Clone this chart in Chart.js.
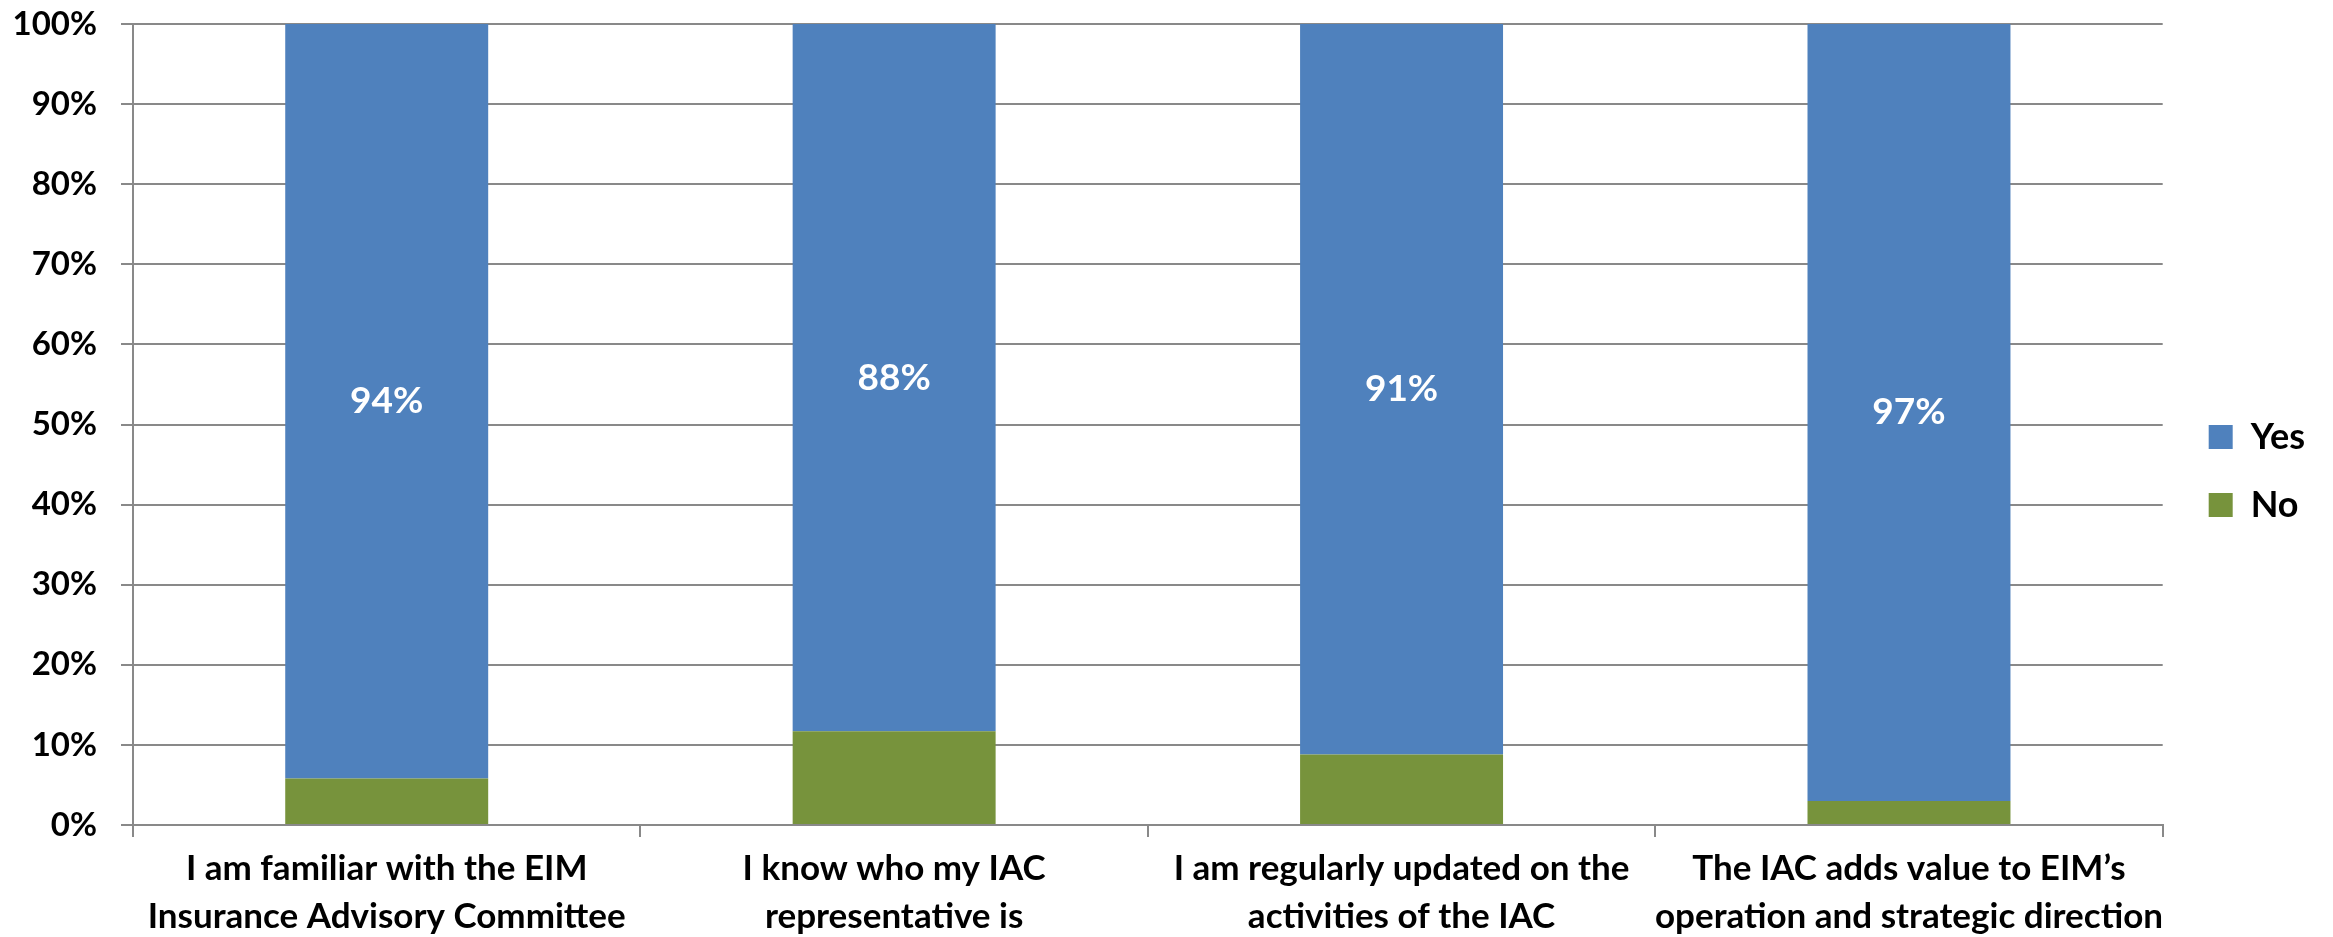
<!DOCTYPE html>
<html>
<head>
<meta charset="utf-8">
<script src="https://cdn.jsdelivr.net/npm/chart.js@4"></script>
<style>
  html, body { margin: 0; padding: 0; background: #ffffff; }
  #wrap { width: 2333px; height: 937px; position: relative; }
</style>
</head>
<body>
<div id="wrap"><canvas id="c" width="2333" height="937"></canvas></div>
<script>
const categories = [
  ["I am familiar with the EIM", "Insurance Advisory Committee"],
  ["I know who my IAC", "representative is"],
  ["I am regularly updated on the", "activities of the IAC"],
  ["The IAC adds value to EIM\u2019s", "operation and strategic direction"]
];
const yesValues = [94.2, 88.3, 91.2, 97.0];
const noValues = [5.8, 11.7, 8.8, 3.0];
const yTicks = [0, 10, 20, 30, 40, 50, 60, 70, 80, 90, 100];

const FONT = "Lato";
const GRID = "#898989";

const labelPlugin = {
  id: "yesLabels",
  afterDatasetsDraw(chart) {
    const ctx = chart.ctx;
    chart.data.datasets.forEach((ds, di) => {
      if (ds.label !== "Yes") return;
      const meta = chart.getDatasetMeta(di);
      meta.data.forEach((bar, i) => {
        const p = bar.getProps(["x", "y", "base"], true);
        ctx.save();
        ctx.fillStyle = "#ffffff";
        ctx.font = "bold 37px " + FONT;
        ctx.textAlign = "center";
        ctx.textBaseline = "middle";
        ctx.fillText(Math.round(ds.data[i]) + "%", p.x, (p.y + p.base) / 2);
        ctx.restore();
      });
    });
  }
};

const legendShift = {
  id: "legendShift",
  afterLayout(chart) {
    if (chart.legend) chart.legend.top -= 31;
  }
};

function noVPad(axis) { axis.paddingTop = 0; axis.paddingBottom = 0; }

new Chart(document.getElementById("c"), {
  type: "bar",
  data: {
    labels: categories,
    datasets: [
      { label: "No", data: noValues, backgroundColor: "#77933C", borderWidth: 0, yAxisID: "y" },
      { label: "Yes", data: yesValues, backgroundColor: "#4F81BD", borderWidth: 0, yAxisID: "y" }
    ]
  },
  options: {
    responsive: false,
    animation: false,
    devicePixelRatio: 1,
    datasets: { bar: { categoryPercentage: 1, barPercentage: 0.4 } },
    layout: { padding: { left: 0, right: 18, top: 24, bottom: -12 } },
    plugins: {
      tooltip: { enabled: false },
      legend: {
        position: "right",
        reverse: true,
        labels: {
          boxWidth: 24,
          boxHeight: 24,
          padding: 32,
          color: "#000000",
          font: { family: FONT, size: 36, weight: "bold" }
        }
      }
    },
    scales: {
      x: {
        stacked: true,
        grid: {
          offset: true,
          drawOnChartArea: false,
          drawTicks: true,
          tickLength: 12,
          color: GRID,
          lineWidth: 2
        },
        border: { display: true, color: GRID, width: 2 },
        ticks: {
          color: "#000000",
          padding: 8,
          maxRotation: 0,
          autoSkip: false,
          font: { family: FONT, size: 35, weight: "bold", lineHeight: "48px" }
        }
      },
      y: {
        stacked: true,
        min: 0,
        max: 100,
        afterBuildTicks(axis) { axis.ticks = yTicks.map(v => ({ value: v })); },
        afterFit(axis) { axis.width = 133; noVPad(axis); },
        grid: { color: GRID, lineWidth: 2, tickLength: 12 },
        border: { display: true, color: GRID, width: 2 },
        ticks: {
          color: "#000000",
          padding: 24,
          font: { family: FONT, size: 33, weight: "bold" },
          callback: v => v + "%"
        }
      },
      gap: {
        type: "linear",
        position: "right",
        display: true,
        afterFit(axis) { axis.width = 14; noVPad(axis); },
        grid: { display: false, drawOnChartArea: false },
        border: { display: false },
        ticks: { display: false }
      }
    }
  },
  plugins: [labelPlugin, legendShift]
});
</script>
</body>
</html>
